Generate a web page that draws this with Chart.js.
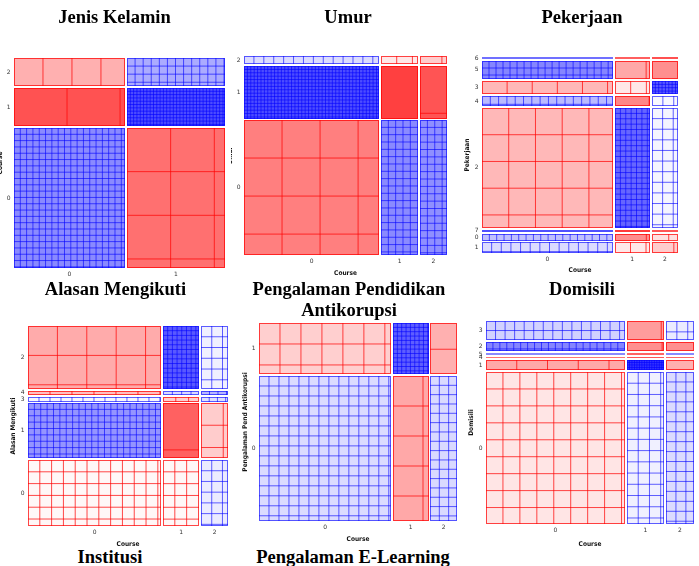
<!DOCTYPE html>
<html><head><meta charset="utf-8">
<script src="https://cdn.jsdelivr.net/npm/chart.js@4.4.1/dist/chart.umd.min.js"></script>
<style>
html,body{margin:0;padding:0;background:#fff;overflow:hidden;width:699px;height:566px;position:relative;}
.wrap{position:absolute;overflow:hidden;}
.wrap canvas{position:absolute;top:0;}
.ttl{position:absolute;font:bold 18.5px 'Liberation Serif','Times New Roman',serif;white-space:nowrap;transform:translateX(-50%);line-height:21px;color:#000;}
</style></head><body>
<div class="ttl" style="left:110px;top:547px">Institusi</div>
<div class="ttl" style="left:353px;top:547px">Pengalaman E-Learning</div>
<script>
// ---------------- DATA ----------------
// Course (column variable in panels 2-6, row variable in panel 1)
const courseLabels = ['0', '1', '2'];
const courseShare  = [68.0, 18.3, 13.7];

// Panel 1: Jenis Kelamin on x, Course on y (rows listed top -> bottom)
const jkLabels      = ['0', '1'];
const jkShare       = [53.1, 46.9];
const jkRowLabels   = ['2', '1', '0'];
const jkRowShare    = [13.7, 18.3, 68.0];
const jkResidual    = [[-3.1, 3.3], [-6.8, 7.0], [4.6, -5.6]];
const jkSquares     = [[3.7, 42], [1.5, 340], [390, 7.2]];

// Panel 2: Umur (rows top -> bottom), columns = Course
const umurLabels    = ['2', '1', '0'];
const umurShare     = [4.1, 27.0, 68.9];
const umurResidual  = [[1.4, -0.9, -2.0], [7.0, -7.5, -6.7], [-5.0, 4.6, 4.4]];
const umurSquares   = [[11, 1.2, 0.45], [620, 0.4, 0.64], [12.6, 93, 67]];

// Panel 3: Pekerjaan
const kerjaLabels   = ['6', '5', '3', '4', '2', '7', '0', '1'];
const kerjaShare    = [1.1, 9.8, 7.4, 5.5, 65.5, 1.1, 3.8, 5.8];
const kerjaResidual = [[3.0, -3.5, -4.5], [4.8, -3.4, -4.4], [-2.8, -0.9, 6.5], [2.7, -4.7, 0.3],
                       [-2.8, 6.0, 0.4], [5.0, -6.0, -4.0], [2.5, -4.5, -1.2], [1.4, -0.9, -2.0]];
const kerjaSquares  = [[3.7, 0.13, 0.1], [48, 0.65, 0.3], [2.7, 1.85, 30], [19, 0.3, 2.2],
                       [22, 145, 27.7], [2, 0.1, 0.1], [17, 0.25, 0.65], [15.5, 1.6, 0.6]];

// Panel 4: Alasan Mengikuti
const alasanLabels   = ['2', '4', '3', '1', '0'];
const alasanShare    = [32.6, 2.1, 2.6, 28.5, 34.2];
const alasanResidual = [[-3.3, 6.5, 0.6], [-2.5, 1.5, 2.8], [0.3, -1.9, 1.2], [4.2, -6.2, -2.0], [-0.3, -0.3, 0.8]];
const alasanSquares  = [[9.7, 103, 14.7], [1.1, 1.65, 1.5], [5.5, 1.1, 2], [180, 0.9, 3], [63, 17, 15.5]];

// Panel 5: Pengalaman Pendidikan Antikorupsi
const pendLabels   = ['1', '0'];
const pendShare    = [26.0, 74.0];
const pendResidual = [[-1.9, 6.3, -3.1], [1.4, -3.4, 1.5]];
const pendSquares  = [[15.3, 97, 2], [192, 5.8, 45]];

// Panel 6: Domisili
const domLabels   = ['3', '2', '5', '4', '1', '0'];
const domShare    = [9.9, 4.5, 1.4, 0.5, 5.2, 78.5];
const domResidual = [[1.8, -3.9, 0.8], [4.8, -4.4, -4.4], [1.5, -3.1, 1.5], [-2.0, -4.0, -3.0], [-3.4, 8.0, -3.1], [-1.0, 0.6, 1.4]];
const domSquares  = [[29, 0.6, 4.5], [26, 0.27, 0.2], [1.9, 0.13, 0.5], [0.5, 0.1, 0.1], [1.47, 60, 0.2], [73.6, 44.6, 43]];

// ---------------- HELPERS ----------------
const GAP = 0.0095;
function spans(shares) {
  const tot = shares.reduce((a, b) => a + b, 0);
  const avail = 1 - GAP * (shares.length - 1);
  let pos = 0; const out = [];
  shares.forEach(s => { const w = s / tot * avail; out.push([pos, pos + w]); pos += w + GAP; });
  return out;
}
function fillColor(r) {
  const a = Math.min(0.85, Math.abs(r) / 10);
  return r >= 0 ? `rgba(0,0,255,${a})` : `rgba(255,0,0,${a})`;
}
function lineColor(r) { return r >= 0 ? 'rgba(0,0,255,0.62)' : 'rgba(255,0,0,0.72)'; }

const tickFont = { family: "'DejaVu Sans', sans-serif", size: 6 };
const axisTitleFont = { family: "'DejaVu Sans Condensed','Liberation Sans',sans-serif", size: 6.5, weight: 'bold', lineHeight: 1.2 };

function makePanel(p) {
  const xSp = spans(p.colShare);
  const ySp = spans(p.rowShare); // from top
  const xCenters = xSp.map(s => (s[0] + s[1]) / 2);
  const yCenters = ySp.map(s => 1 - (s[0] + s[1]) / 2);

  const wrap = document.createElement('div');
  wrap.className = 'wrap';
  wrap.style.left = p.clipLeft + 'px';
  wrap.style.top = p.top + 'px';
  wrap.style.width = (p.L + p.Wc - p.clipLeft) + 'px';
  wrap.style.height = p.H + 'px';
  const cv = document.createElement('canvas');
  cv.width = p.Wc; cv.height = p.H;
  cv.style.left = (p.L - p.clipLeft) + 'px';
  wrap.appendChild(cv);
  document.body.appendChild(wrap);

  const mosaic = {
    id: 'mosaic',
    beforeDatasetsDraw(chart) {
      const ctx = chart.ctx, xs = chart.scales.x, ys = chart.scales.y;
      ySp.forEach((ry, i) => {
        xSp.forEach((cx, j) => {
          const left = Math.round(xs.getPixelForValue(cx[0]));
          const right = Math.round(xs.getPixelForValue(cx[1]));
          const top = Math.round(ys.getPixelForValue(1 - ry[0]));
          const bottom = Math.round(ys.getPixelForValue(1 - ry[1]));
          const w = right - left, h = Math.max(1, bottom - top);
          const r = p.resid[i][j], n = p.squares[i][j];
          ctx.save();
          if (h < 3) {
            ctx.fillStyle = fillColor(r); ctx.fillRect(left, top, w, h);
            ctx.fillStyle = lineColor(r); ctx.globalAlpha = 0.6; ctx.fillRect(left, top, w, h);
            ctx.restore(); return;
          }
          ctx.fillStyle = fillColor(r);
          ctx.fillRect(left, top, w, h);
          ctx.beginPath(); ctx.rect(left, top, w, h); ctx.clip();
          ctx.strokeStyle = lineColor(r); ctx.lineWidth = 1;
          if (n > 0) {
            const s = Math.sqrt(w * h / n);
            ctx.beginPath();
            for (let x = left + s; x < right - 0.8; x += s) { ctx.moveTo(x, top); ctx.lineTo(x, top + h); }
            for (let y = top + s; y < top + h - 0.8; y += s) { ctx.moveTo(left, y); ctx.lineTo(right, y); }
            ctx.stroke();
          }
          ctx.strokeRect(left + 0.5, top + 0.5, w - 1, h - 1);
          ctx.restore();
        });
      });
    }
  };

  new Chart(cv, {
    type: 'scatter',
    data: { datasets: [{ data: [] }] },
    options: {
      responsive: false, animation: false, devicePixelRatio: 1,
      layout: { padding: 0 },
      plugins: {
        legend: { display: false }, tooltip: { enabled: false },
        title: {
          display: true, text: p.title, color: '#000',
          font: { family: "'Liberation Serif','Times New Roman',serif", size: 18.5, weight: 'bold', lineHeight: 1.13 },
          padding: { top: 7.5, bottom: p.titlePadB }
        }
      },
      scales: {
        x: {
          type: 'linear', position: 'bottom', min: 0, max: 1,
          grid: { display: false, drawTicks: false }, border: { display: false },
          ticks: { autoSkip: false, maxRotation: 0, padding: 3, font: tickFont, color: '#333',
                   callback: (v, i) => p.colLabels[i] },
          afterBuildTicks: a => { a.ticks = xCenters.map(v => ({ value: v })); },
          afterFit: s => { s.height = p.X; },
          title: { display: !!p.xTitle, text: p.xTitle || '', font: axisTitleFont, color: '#111',
                   padding: { top: 0, bottom: p.xTitlePadB || 0 } }
        },
        y: {
          type: 'linear', position: 'left', min: 0, max: 1,
          grid: { display: false, drawTicks: false }, border: { display: false },
          ticks: { autoSkip: false, padding: 3.5, font: tickFont, color: '#333',
                   callback: (v, i) => p.rowLabels[i] },
          afterBuildTicks: a => { a.ticks = yCenters.map(v => ({ value: v })); },
          afterFit: s => { s.width = p.W; },
          title: { display: true, text: p.yTitle, font: axisTitleFont, color: '#111',
                   padding: { top: p.yTitlePadT, bottom: 0 } }
        },
        r: {
          type: 'linear', position: 'right', display: true,
          grid: { display: false, drawTicks: false }, border: { display: false },
          ticks: { display: false },
          afterFit: s => { s.width = p.R; }
        }
      }
    },
    plugins: [mosaic]
  });
}

// ---------------- PANELS ----------------
makePanel({ title: 'Jenis Kelamin', top: 0, clipLeft: 0, L: -4, Wc: 237, H: 280, W: 18, R: 8, X: 12,
  titlePadB: 29.6, xTitle: '', yTitle: 'Course', yTitlePadT: 0,
  colLabels: jkLabels, colShare: jkShare, rowLabels: jkRowLabels, rowShare: jkRowShare,
  resid: jkResidual, squares: jkSquares });

makePanel({ title: 'Umur', top: 0, clipLeft: 231, L: 226, Wc: 244, H: 279, W: 18, R: 23, X: 24,
  titlePadB: 27.6, xTitle: 'Course', xTitlePadB: 2.1, yTitle: 'Umur', yTitlePadT: 0,
  colLabels: courseLabels, colShare: courseShare, rowLabels: umurLabels, rowShare: umurShare,
  resid: umurResidual, squares: umurSquares });

makePanel({ title: 'Pekerjaan', top: 0, clipLeft: 460, L: 460, Wc: 244, H: 277, W: 22, R: 26, X: 24,
  titlePadB: 28.6, xTitle: 'Course', xTitlePadB: 2.6, yTitle: 'Pekerjaan', yTitlePadT: 3.6,
  colLabels: courseLabels, colShare: courseShare, rowLabels: kerjaLabels, rowShare: kerjaShare,
  resid: kerjaResidual, squares: kerjaSquares });

makePanel({ title: 'Alasan Mengikuti', top: 272, clipLeft: 0, L: 0, Wc: 231, H: 278, W: 28, R: 3, X: 24,
  titlePadB: 25.6, xTitle: 'Course', xTitlePadB: 1.6, yTitle: 'Alasan Mengikuti', yTitlePadT: 9.6,
  colLabels: courseLabels, colShare: courseShare, rowLabels: alasanLabels, rowShare: alasanShare,
  resid: alasanResidual, squares: alasanSquares });

makePanel({ title: ['Pengalaman Pendidikan', 'Antikorupsi'], top: 272, clipLeft: 233, L: 233, Wc: 232, H: 273, W: 26, R: 8, X: 24,
  titlePadB: 1.7, xTitle: 'Course', xTitlePadB: 1.6, yTitle: 'Pengalaman Pend Antikorupsi', yTitlePadT: 8.1,
  colLabels: courseLabels, colShare: courseShare, rowLabels: pendLabels, rowShare: pendShare,
  resid: pendResidual, squares: pendSquares });

makePanel({ title: 'Domisili', top: 272, clipLeft: 460, L: 460, Wc: 244, H: 278, W: 26, R: 10, X: 26,
  titlePadB: 20.6, xTitle: 'Course', xTitlePadB: 1.6, yTitle: 'Domisili', yTitlePadT: 7.6,
  colLabels: courseLabels, colShare: courseShare, rowLabels: domLabels, rowShare: domShare,
  resid: domResidual, squares: domSquares });
</script>
</body></html>
